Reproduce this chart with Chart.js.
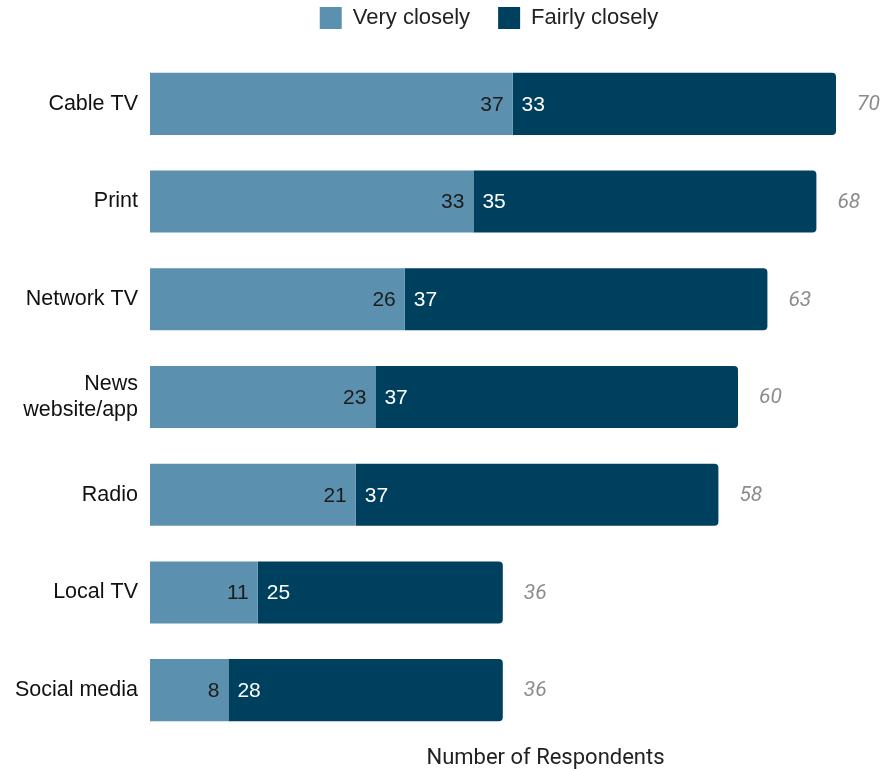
<!DOCTYPE html>
<html>
<head>
<meta charset="utf-8">
<script src="https://cdn.jsdelivr.net/npm/chart.js@4"></script>
<style>
    html, body { margin: 0; padding: 0; background: #fff; }
    #wrap { width: 895px; height: 769px; }
</style>
</head>
<body>
<div id="wrap"><canvas id="followChart"></canvas></div>
<script>
// data
const categories = [['Cable TV'], ['Print'], ['Network TV'], ['News', 'website/app'], ['Radio'], ['Local TV'], ['Social media']];
const veryClosely = [37, 33, 26, 23, 21, 11, 8];
const fairlyClosely = [33, 35, 37, 37, 37, 25, 28];
const totals = [70, 68, 63, 60, 58, 36, 36];

const lightBlue = '#5b91ae';
const darkBlue = '#00405f';
const labelFont = '"Liberation Sans", Arial, sans-serif';

// numbers inside the segments and the grey total after each bar
const segmentLabels = {
    id: 'segmentLabels',
    afterDatasetsDraw(chart) {
        const ctx = chart.ctx;
        const light = chart.getDatasetMeta(0).data;
        const dark = chart.getDatasetMeta(1).data;
        ctx.save();
        ctx.textBaseline = 'middle';
        light.forEach((bar, i) => {
            ctx.font = '21px ' + labelFont;
            ctx.fillStyle = '#1b1b1b';
            ctx.textAlign = 'right';
            ctx.fillText(veryClosely[i], bar.x - 9, bar.y + 1);
        });
        dark.forEach((bar, i) => {
            ctx.font = '21px ' + labelFont;
            ctx.fillStyle = '#ffffff';
            ctx.textAlign = 'left';
            ctx.fillText(fairlyClosely[i], bar.base + 9, bar.y + 1);
            ctx.font = 'italic 21px Roboto';
            ctx.fillStyle = '#8c8c8c';
            ctx.fillText(totals[i], bar.x + 21, bar.y + 1);
        });
        ctx.restore();
    }
};

// x axis title, sits a little right of the plot centre like the original
const axisTitle = {
    id: 'axisTitle',
    afterDraw(chart) {
        const { ctx, chartArea } = chart;
        ctx.save();
        ctx.font = '22px Roboto';
        ctx.fillStyle = '#222';
        ctx.textAlign = 'center';
        ctx.textBaseline = 'middle';
        ctx.fillText('Number of Respondents', (chartArea.left + chartArea.right) / 2 + 28, chartArea.bottom + 19);
        ctx.restore();
    }
};

// legend in the original is pushed right and sits tight to the top edge
const legendNudge = {
    id: 'legendNudge',
    afterLayout(chart) {
        const lg = chart.legend;
        lg.left += 44; lg.right += 44;
        lg.top -= 16; lg.bottom -= 16;
    }
};

new Chart(document.getElementById('followChart'), {
    type: 'bar',
    data: {
        labels: categories,
        datasets: [{
            label: 'Very closely',
            data: veryClosely,
            backgroundColor: lightBlue,
            borderWidth: 0,
            categoryPercentage: 1,
            barPercentage: 0.635
        }, {
            label: 'Fairly closely',
            data: fairlyClosely,
            backgroundColor: darkBlue,
            borderWidth: 0,
            borderRadius: 4,
            borderSkipped: 'start',
            categoryPercentage: 1,
            barPercentage: 0.635
        }]
    },
    options: {
        indexAxis: 'y',
        responsive: true,
        maintainAspectRatio: false,
        animation: false,
        layout: {
            padding: { top: -5, left: 5, right: 10, bottom: 22 }
        },
        plugins: {
            legend: {
                position: 'top',
                labels: {
                    boxWidth: 22,
                    boxHeight: 22,
                    padding: 28,
                    color: '#222',
                    font: { family: labelFont, size: 22 }
                }
            },
            tooltip: { enabled: false }
        },
        scales: {
            x: {
                stacked: true,
                min: 0,
                max: 75,
                grid: { display: false },
                border: { display: false },
                ticks: { display: false }
            },
            y: {
                stacked: true,
                grid: { display: false, drawTicks: false },
                border: { display: false },
                afterFit(scale) { scale.width = 145; },
                ticks: {
                    padding: 12,
                    color: '#111',
                    font: { family: labelFont, size: 21.5, lineHeight: 1.2 }
                }
            }
        }
    },
    plugins: [segmentLabels, axisTitle, legendNudge]
});
</script>
</body>
</html>
